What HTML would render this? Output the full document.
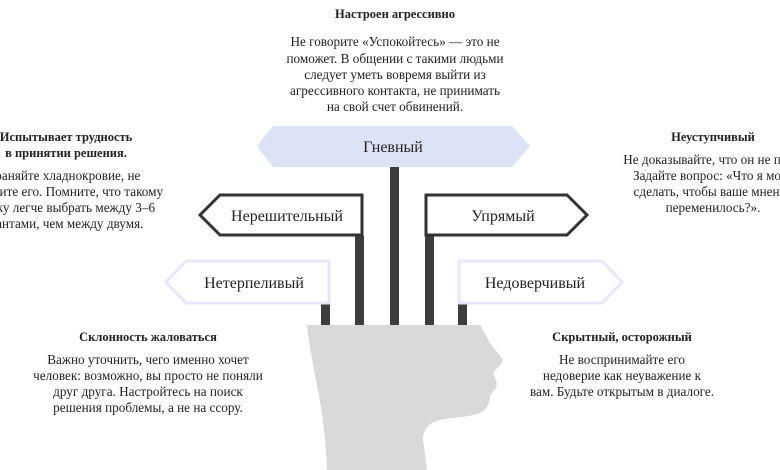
<!DOCTYPE html>
<html><head><meta charset="utf-8"><style>
html,body{margin:0;padding:0;background:#fff;}
svg{display:block;}
text{font-family:"Liberation Serif","DejaVu Serif",serif;fill:#222;}
.t{font-size:12.5px;font-weight:bold;}
.p{font-size:13.2px;}
.s{font-size:16px;fill:#222;}
</style></head><body>
<svg width="780" height="470" viewBox="0 0 780 470" xmlns="http://www.w3.org/2000/svg">
<g text-anchor="middle">
<text class="t" x="395" y="18">Настроен агрессивно</text>
<text class="p" x="395" y="46">Не говорите «Успокойтесь» — это не</text>
<text class="p" x="395" y="63">поможет. В общении с такими людьми</text>
<text class="p" x="395" y="79">следует уметь вовремя выйти из</text>
<text class="p" x="395" y="95">агрессивного контакта, не принимать</text>
<text class="p" x="395" y="111">на свой счет обвинений.</text>

<text class="t" x="66" y="141">Испытывает трудность</text>
<text class="t" x="66" y="157">в принятии решения.</text>
<text class="p" x="57" y="180">Сохраняйте хладнокровие, не</text>
<text class="p" x="57" y="196">не торопите его. Помните, что такому</text>
<text class="p" x="57" y="212">человеку легче выбрать между 3–6</text>
<text class="p" x="57" y="228">вариантами, чем между двумя.</text>

<text class="t" x="713" y="141">Неуступчивый</text>
<text class="p" x="713" y="164">Не доказывайте, что он не прав.</text>
<text class="p" x="713" y="180">Задайте вопрос: «Что я могу</text>
<text class="p" x="713" y="196">сделать, чтобы ваше мнение</text>
<text class="p" x="713" y="212">переменилось?».</text>

<text class="t" x="148" y="341">Склонность жаловаться</text>
<text class="p" x="148" y="364">Важно уточнить, чего именно хочет</text>
<text class="p" x="148" y="380">человек: возможно, вы просто не поняли</text>
<text class="p" x="148" y="396">друг друга. Настройтесь на поиск</text>
<text class="p" x="148" y="412">решения проблемы, а не на ссору.</text>

<text class="t" x="622" y="341">Скрытный, осторожный</text>
<text class="p" x="622" y="364">Не воспринимайте его</text>
<text class="p" x="622" y="380">недоверие как неуважение к</text>
<text class="p" x="622" y="396">вам. Будьте открытым в диалоге.</text>
</g>

<path d="M307,325 L480,325 C484,332 487,338 492,346 C497,352 502,357 503,361 C501,366 495,369 493,373 C495,378 498,383 496,388 C493,392 489,395 490,399 C489,404 486,409 482,412 C474,416 462,417 445,419 C430,421 423,428 423,440 L427,470 L327,470 C326,440 322,410 317,385 C313,365 309,345 307,325 Z" fill="#d9d9d9"/>

<rect x="390" y="167" width="9" height="158" fill="#3d3d3d"/>
<rect x="355" y="236" width="9" height="89" fill="#3d3d3d"/>
<rect x="425" y="236" width="9" height="89" fill="#3d3d3d"/>
<rect x="321" y="304" width="9" height="21" fill="#3d3d3d"/>
<rect x="458" y="304" width="9" height="21" fill="#3d3d3d"/>

<polygon points="273,126 512,126 530,146 512,167 273,167 257,146" fill="#dde3f6"/>
<text class="s" x="393" y="152" text-anchor="middle">Гневный</text>

<polygon points="220,195 362,195 362,235 220,235 200,215" fill="#fff" stroke="#333" stroke-width="3"/>
<text class="s" x="287" y="221" text-anchor="middle">Нерешительный</text>
<polygon points="426,195 567,195 587,215 567,235 426,235" fill="#fff" stroke="#333" stroke-width="3"/>
<text class="s" x="503" y="221" text-anchor="middle">Упрямый</text>
<polygon points="186,261 329,261 329,303 186,303 166,282" fill="#fff" stroke="#e4e8f8" stroke-width="3"/>
<text class="s" x="254" y="288" text-anchor="middle">Нетерпеливый</text>
<polygon points="459,261 602,261 622,282 602,303 459,303" fill="#fff" stroke="#e4e8f8" stroke-width="3"/>
<text class="s" x="535" y="288" text-anchor="middle">Недоверчивый</text>
</svg>
</body></html>
